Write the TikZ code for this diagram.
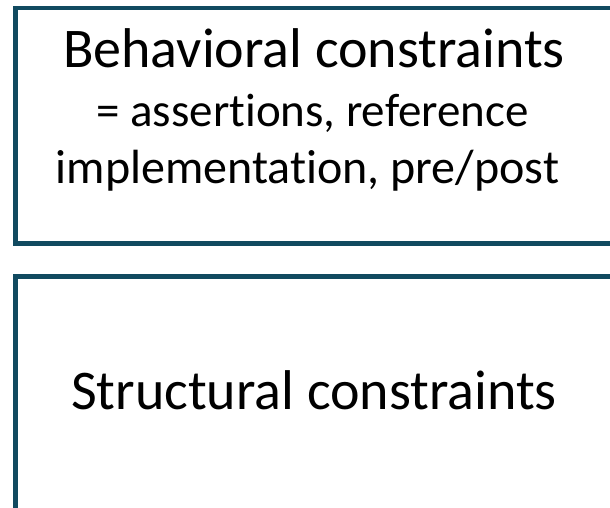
\documentclass[tikz,border=0pt]{standalone}
\usepackage{fontspec}
\setmainfont[Ligatures=NoCommon]{Carlito}
\definecolor{boxedge}{RGB}{17,74,96}
\tikzset{
  panel/.style={draw=boxedge, line width=4.5pt, fill=white, rectangle, inner sep=0pt},
  headline/.style={anchor=base, inner sep=0pt, font=\fontsize{56}{68}\selectfont},
  subline/.style={anchor=base, inner sep=0pt, font=\fontsize{47}{57}\selectfont}
}
\begin{document}
\begin{tikzpicture}[x=1pt, y=-1pt]
  \useasboundingbox (0,0) rectangle (610,508);
  \begin{scope}
    \clip (0,0) rectangle (610,508);
    % behavioural panel
    \node[panel, minimum width=604pt, minimum height=235pt, anchor=north west] (behav) at (13,6) {};
    \node[headline] (behavtitle) at (314,68) {Behavioral constraints};
    \node[subline] (behavline1) at (312.5,127) {= assertions, reference};
    \node[subline, font=\fontsize{48}{58}\selectfont] (behavline2) at (307.5,183) {implementation, pre/post};
    % structural panel
    \node[panel, minimum width=604pt, minimum height=234pt, anchor=north west] (struct) at (13,274) {};
    \node[headline] (structtitle) at (314,409) {Structural constraints};
  \end{scope}
\end{tikzpicture}
\end{document}
